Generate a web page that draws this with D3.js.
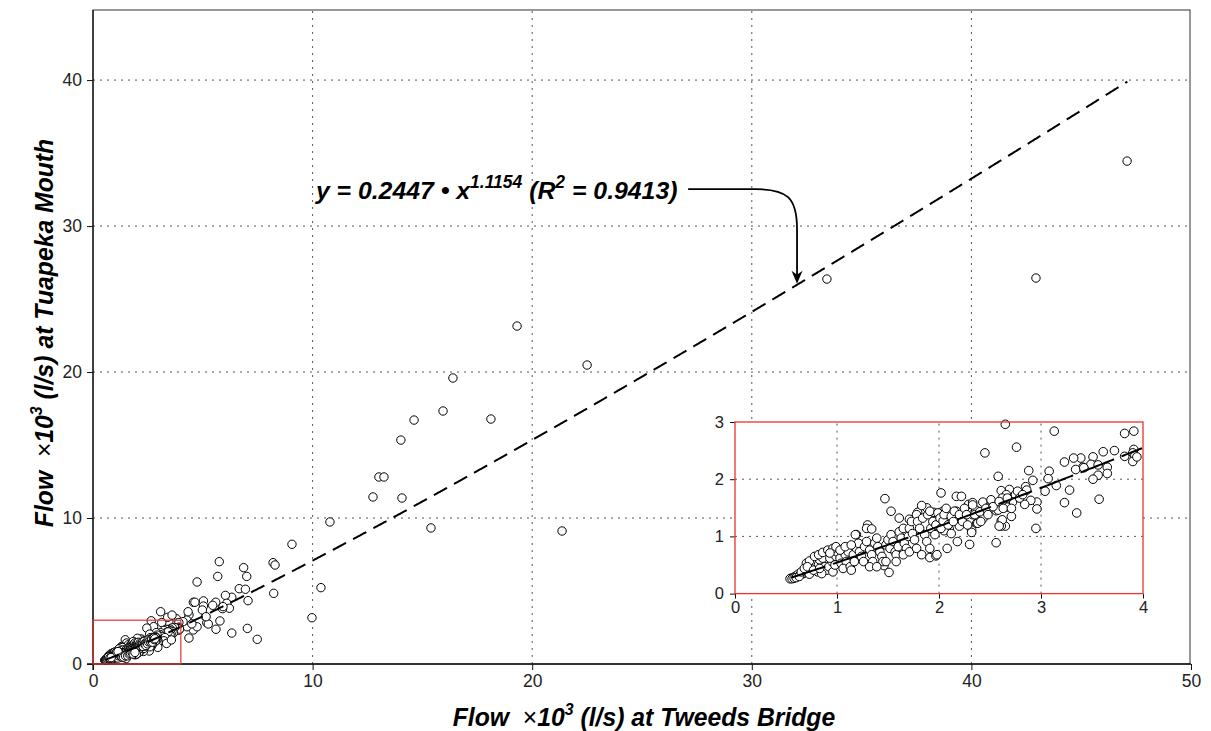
<!DOCTYPE html>
<html><head><meta charset="utf-8">
<script src="https://cdn.jsdelivr.net/npm/d3@7"></script>
<style>
body{margin:0;background:#fff}
text{font-family:"Liberation Sans",Arial,sans-serif}
</style>
</head><body>
<svg id="c" width="1211" height="731"></svg>
<script>
// ---------- data ----------
const xTicks = [0, 10, 20, 30, 40, 50];
const yTicks = [0, 10, 20, 30, 40];
const insetXTicks = [0, 1, 2, 3, 4];
const insetYTicks = [0, 1, 2, 3];
const fitCoef = 0.2447, fitExp = 1.1154, fitR2 = 0.9413;   // y = a * x^b, x,y in l/s
const fitRange = [0.55, 47.1];   // x10^3 l/s
const arrowTargetX = 32.06;

// flows x10^3 l/s : [Tweeds Bridge, Tuapeka Mouth]
const highFlows = [
[47.09,34.45],[42.94,26.44],[33.42,26.37],[19.31,23.15],[22.5,20.48],[16.39,19.59],[15.94,17.33],
[14.62,16.71],[18.12,16.78],[14.02,15.34],[13.02,12.81],[13.25,12.81],[12.75,11.44],[14.07,11.37],
[15.39,9.32],[21.36,9.11],[10.79,9.73],[10.38,5.23],[9.97,3.17],[9.06,8.2],[8.2,6.94],[8.29,6.78],
[8.23,4.84],[5.75,7.01],[5.68,6.0],[4.74,5.62],[6.86,6.6],[7.0,6.0],[6.66,5.16],[6.94,5.12],
[7.06,4.34],[6.32,4.57],[6.03,4.7],[6.09,4.16],[6.21,3.82],[5.9,3.79],[5.59,4.23],[5.03,4.32],
[5.03,3.97],[4.57,4.23],[4.64,4.23],[5.13,3.24],[4.98,3.7],[4.37,3.36],[5.78,2.95],[5.6,2.38],
[6.32,2.12],[7.03,2.44],[7.48,1.69],[4.37,1.78],[4.57,2.33],[4.74,2.55],[4.28,2.55],[4.27,3.01],
[5.18,2.83],[5.25,2.74],[5.45,4.02],[5.92,3.93],[3.08,3.58],[3.8,3.1],[4.33,3.58],[5.15,3.24],
[3.4,3.2],[3.6,3.35],[4.1,2.9],[4.5,2.75]
];
const lowFlowsUpper = [
[2.65,2.96],[3.13,2.84],[3.82,2.80],[3.91,2.84],[2.76,2.56],[2.45,2.46],[3.91,2.52],[3.90,2.46],
[3.92,2.41],[3.82,2.40],[3.90,2.31],[3.94,2.39],[3.72,2.50],[3.61,2.48],[3.51,2.39],[3.39,2.37],
[3.32,2.37],[3.23,2.30],[3.41,2.21],[3.49,2.26],[3.56,2.25],[3.65,2.21],[3.65,2.10],[3.56,2.07],
[3.51,2.0],[3.34,2.17],[3.42,2.2],[3.08,2.14],[3.07,2.01],[3.04,1.79],[3.15,1.89],[3.28,1.81],
[3.23,1.59],[3.35,1.41],[3.57,1.65],[2.96,1.60],[2.96,1.48],[2.95,1.14],[2.88,2.15],[2.92,1.98],
[2.85,1.87],[2.90,1.63],[2.84,1.56],[2.58,2.05],[2.69,1.82],[2.61,1.80],[2.66,1.73],[2.75,1.73],
[2.72,1.60],[2.65,1.60],[2.56,1.45],[2.71,1.35],[2.61,1.27],[2.65,1.18],[2.61,1.18],[2.56,0.89],
[2.29,1.56],[2.43,1.60],[2.50,1.54],[2.37,1.45],[2.44,1.35],[2.37,1.23],[2.32,1.11],[2.30,0.86],
[2.17,1.70],[2.22,1.70],[2.02,1.76],[2.17,1.44],[2.08,1.40],[2.22,1.26],[2.10,1.13],[2.18,0.91],
[2.08,0.79],[1.47,1.66],[1.53,1.44],[1.61,1.32],[1.30,1.20],[1.19,1.03],[1.46,0.49],[1.51,0.37],
[1.91,0.63],[1.97,0.66],[2.86,1.81],[2.62,1.67],[2.33,1.59],[2.52,1.59],[2.58,1.46],[2.67,1.51],
[2.62,1.29],[2.59,1.18],[2.32,1.07],[2.38,1.23],[2.43,1.31],[2.33,1.38],[2.36,1.46],[2.25,1.41],
[2.23,1.28],[2.16,1.35],[2.10,1.42],[2.04,1.44],[2.01,1.29],[2.05,1.10],[2.12,1.05],[2.20,1.18],
[1.99,1.20],[1.82,1.45],[1.88,1.50],[1.95,1.42],[1.79,1.42],[1.71,1.30],[1.29,1.14],[1.34,1.13],
[1.18,1.03],[1.98,0.68]
];
const lowFlowsBand = [
[0.55,0.27],[0.57,0.28],[0.59,0.30],[0.60,0.31],[0.62,0.34],[0.64,0.33],[0.67,0.35],[0.69,0.38],
[0.72,0.41],[0.75,0.44],[0.77,0.53],[0.79,0.56],[0.82,0.51],[0.81,0.38],[0.83,0.59],[0.86,0.62],
[0.88,0.47],[0.90,0.41],[0.92,0.47],[0.95,0.56],[0.96,0.38],[0.85,0.35],[0.73,0.34],[0.93,0.62],
[0.99,0.65],[1.00,0.73],[0.98,0.50],[1.03,0.62],[1.04,0.53],[1.08,0.68],[1.09,0.56],[1.06,0.44],
[1.13,0.47],[1.14,0.41],[1.11,0.73],[1.16,0.68],[1.17,0.56],[1.19,0.79],[1.21,0.88],[1.22,0.73],
[1.24,0.65],[1.26,0.56],[1.27,0.82],[1.29,0.91],[1.32,0.76],[1.34,0.68],[1.35,0.56],[1.37,0.88],
[1.39,0.97],[1.40,0.82],[1.42,0.73],[1.44,0.65],[1.45,0.56],[1.48,0.85],[1.50,0.94],[1.52,0.79],
[1.53,1.03],[1.55,0.91],[1.57,0.73],[1.58,0.68],[1.60,0.82],[1.61,1.08],[1.63,0.97],[1.65,1.14],
[1.66,0.88],[1.68,0.79],[1.70,1.00],[1.71,1.14],[1.73,1.26],[1.74,1.05],[1.76,0.94],[1.78,1.38],
[1.79,1.26],[1.81,1.14],[1.83,1.54],[1.84,1.32],[1.86,1.03],[1.88,0.91],[1.89,1.38],[1.91,1.44],
[1.92,1.14],[1.94,1.26],[1.96,1.03],[1.97,1.20],[1.99,1.41],[2.01,1.32],[2.02,1.14],[2.04,1.27],
[2.05,1.38],[2.07,1.49],[2.09,1.20],[2.12,1.35],[2.14,1.26],[2.15,1.44],[2.20,1.38],[2.23,1.26],
[2.25,1.49],[2.27,1.38],[2.28,1.20],[2.33,1.55],[2.35,1.38],[2.40,1.43],[2.41,1.26],[2.46,1.49],
[2.48,1.38],[2.51,1.64],[2.53,1.52],[2.59,1.61],[2.63,1.49],[2.67,1.67],[2.71,1.49],[2.77,1.79],
[2.79,1.67],[2.82,1.73],
[0.70,0.53],[0.73,0.57],[0.78,0.65],[0.82,0.68],[0.86,0.72],[0.91,0.76],[0.96,0.79],[0.93,0.71],
[0.99,0.82],[1.03,0.76],[1.08,0.82],[1.14,0.85],[1.32,0.47],[1.39,0.47],[1.48,0.56],[1.58,0.56],
[1.65,0.68],[1.71,0.73],[1.78,0.79],[1.83,0.68],[1.91,0.79],
[0.54,0.26],[0.56,0.26],[0.58,0.27],[0.60,0.28],[0.63,0.30],[0.65,0.38],[0.68,0.44],[0.71,0.47],
[0.77,0.41],[0.83,0.44]
];

// ---------- setup ----------
const svg = d3.select("#c");
const allFlows = highFlows.concat(lowFlowsUpper, lowFlowsBand);
const fit = x => fitCoef * Math.pow(x * 1000, fitExp) / 1000;

const x = d3.scaleLinear().domain([0, 50]).range([93, 1191]);
const y = d3.scaleLinear().domain([0, 44.8]).range([664, 10]);

const gridColor = "#555";
const g = svg.append("g");
g.selectAll(".vg").data(xTicks.filter(d => d > 0 && d < 50)).join("line")
  .attr("x1", d => x(d)).attr("x2", d => x(d)).attr("y1", y(0)).attr("y2", y(44.8))
  .attr("stroke", gridColor).attr("stroke-dasharray", "2,5");
g.selectAll(".hg").data(yTicks.filter(d => d > 0)).join("line")
  .attr("x1", x(0)).attr("x2", x(50)).attr("y1", d => y(d)).attr("y2", d => y(d))
  .attr("stroke", gridColor).attr("stroke-dasharray", "2,5");

svg.append("rect").attr("x", x(0)).attr("y", y(44.8)).attr("width", x(50) - x(0) - 1)
  .attr("height", y(0) - y(44.8)).attr("fill", "none").attr("stroke", "#333").attr("stroke-width", 1);

const xAxis = svg.append("g").attr("transform", `translate(0,${y(0)})`)
  .call(d3.axisBottom(x).tickValues(xTicks).tickSize(6).tickPadding(5).tickFormat(d3.format("d")));
const yAxis = svg.append("g").attr("transform", `translate(${x(0)},0)`)
  .call(d3.axisLeft(y).tickValues(yTicks).tickSize(6).tickPadding(5).tickFormat(d3.format("d")));
[xAxis, yAxis].forEach(a => {
  a.select(".domain").attr("stroke", "#111").attr("stroke-width", 1.3);
  a.selectAll(".tick line").attr("stroke", "#111");
  a.selectAll(".tick text").attr("font-size", 17.5).attr("fill", "#222")
    .attr("font-family", '"Liberation Sans",Arial,sans-serif');
});
yAxis.select(".domain").attr("d", `M-6,${y(0)}H0V${y(44.8)}`);
xAxis.select(".domain").attr("d", `M${x(0)},6V0H${x(50)}`);

svg.append("g").selectAll("circle").data(allFlows).join("circle")
  .attr("cx", d => x(d[0])).attr("cy", d => y(d[1])).attr("r", 4.2)
  .attr("fill", "#fff").attr("stroke", "#000").attr("stroke-width", 1);

const fitPts = d3.range(fitRange[0], fitRange[1] + 0.001, 0.05);
fitPts.push(fitRange[1]);
svg.append("path").datum(fitPts)
  .attr("d", d3.line().x(d => x(d)).y(d => y(fit(d))))
  .attr("fill", "none").attr("stroke", "#000").attr("stroke-width", 2).attr("stroke-dasharray", "15,8");

svg.append("rect").attr("x", x(0)).attr("y", y(3)).attr("width", x(4) - x(0)).attr("height", y(0) - y(3))
  .attr("fill", "none").attr("stroke", "#e8332f").attr("stroke-width", 1.2);

// annotation
const ann = svg.append("text").attr("x", x(10.15)).attr("y", y(31.85))
  .attr("font-size", 24.8).attr("font-weight", "bold").attr("font-style", "italic").attr("fill", "#000");
ann.append("tspan").text("y = " + fitCoef + " • x");
ann.append("tspan").attr("font-size", 17.5).attr("dy", -11).text(String(fitExp));
ann.append("tspan").attr("dy", 11).text(" (R");
ann.append("tspan").attr("font-size", 17.5).attr("dy", -11).text("2");
ann.append("tspan").attr("dy", 11).text(" = " + fitR2 + ")");

const sx = x(27.1), sy = y(32.53), tx = x(arrowTargetX), ty = y(fit(arrowTargetX)) - 1;
svg.append("path")
  .attr("d", `M${sx},${sy}H${tx - 42}C${tx - 10},${sy} ${tx},${sy + 8} ${tx},${sy + 40}V${ty - 8}`)
  .attr("fill", "none").attr("stroke", "#000").attr("stroke-width", 1.8);
svg.append("path")
  .attr("d", `M${tx},${ty}L${tx - 5.5},${ty - 13}L${tx},${ty - 9}L${tx + 5.5},${ty - 13}Z`)
  .attr("fill", "#000");

// axis titles
function title(sel, place) {
  sel.append("tspan").text("Flow\u00A0\u00A0");
  sel.append("tspan").attr("font-weight", "normal").attr("font-style", "normal").text("×");
  sel.append("tspan").text("10");
  sel.append("tspan").attr("font-size", 16).attr("dy", -11).text("3");
  sel.append("tspan").attr("dy", 11).text(" (l/s) at " + place);
}
const xt = svg.append("text").attr("transform", `translate(644,726) scale(0.99,1)`)
  .attr("text-anchor", "middle").attr("font-size", 25).attr("font-weight", "bold").attr("font-style", "italic");
title(xt, "Tweeds Bridge");
const yt = svg.append("text").attr("transform", `translate(53,333) rotate(-90) scale(0.99,1)`)
  .attr("text-anchor", "middle").attr("font-size", 25).attr("font-weight", "bold").attr("font-style", "italic");
title(yt, "Tuapeka Mouth");

// ---------- inset ----------
const ix = d3.scaleLinear().domain([0, 4]).range([735, 1143]);
const iy = d3.scaleLinear().domain([0, 3]).range([593.6, 422]);
const ins = svg.append("g");
ins.append("rect").attr("x", ix(0)).attr("y", iy(3)).attr("width", ix(4) - ix(0)).attr("height", iy(0) - iy(3))
  .attr("fill", "#fff");
ins.selectAll(".ivg").data(insetXTicks.filter(d => d > 0 && d < 4)).join("line")
  .attr("x1", d => ix(d)).attr("x2", d => ix(d)).attr("y1", iy(0)).attr("y2", iy(3))
  .attr("stroke", gridColor).attr("stroke-dasharray", "2,5");
ins.selectAll(".ihg").data(insetYTicks.filter(d => d > 0 && d < 3)).join("line")
  .attr("x1", ix(0)).attr("x2", ix(4)).attr("y1", d => iy(d)).attr("y2", d => iy(d))
  .attr("stroke", gridColor).attr("stroke-dasharray", "2,5");

const ixAxis = ins.append("g").attr("transform", `translate(0,${iy(0)})`)
  .call(d3.axisBottom(ix).tickValues(insetXTicks).tickSize(5).tickPadding(3).tickFormat(d3.format("d")));
const iyAxis = ins.append("g").attr("transform", `translate(${ix(0)},0)`)
  .call(d3.axisLeft(iy).tickValues(insetYTicks).tickSize(5).tickPadding(6).tickFormat(d3.format("d")));
[ixAxis, iyAxis].forEach(a => {
  a.select(".domain").remove();
  a.selectAll(".tick line").attr("stroke", "#111");
  a.selectAll(".tick text").attr("font-size", 16.5).attr("fill", "#222")
    .attr("font-family", '"Liberation Sans",Arial,sans-serif');
});

const inPts = allFlows.filter(d => d[0] <= 4.03 && d[1] <= 3.03);
ins.append("g").selectAll("circle").data(inPts).join("circle")
  .attr("cx", d => ix(d[0])).attr("cy", d => iy(d[1])).attr("r", 4.3)
  .attr("fill", "#fff").attr("stroke", "#000").attr("stroke-width", 1);

const iFit = d3.range(fitRange[0], 4.0001, 0.02);
ins.append("path").datum(iFit)
  .attr("d", d3.line().x(d => ix(d)).y(d => iy(fit(d))))
  .attr("fill", "none").attr("stroke", "#000").attr("stroke-width", 2).attr("stroke-dasharray", "36,8");

ins.append("rect").attr("x", ix(0)).attr("y", iy(3)).attr("width", ix(4) - ix(0)).attr("height", iy(0) - iy(3))
  .attr("fill", "none").attr("stroke", "#e8332f").attr("stroke-width", 1.3);
</script>
</body></html>
